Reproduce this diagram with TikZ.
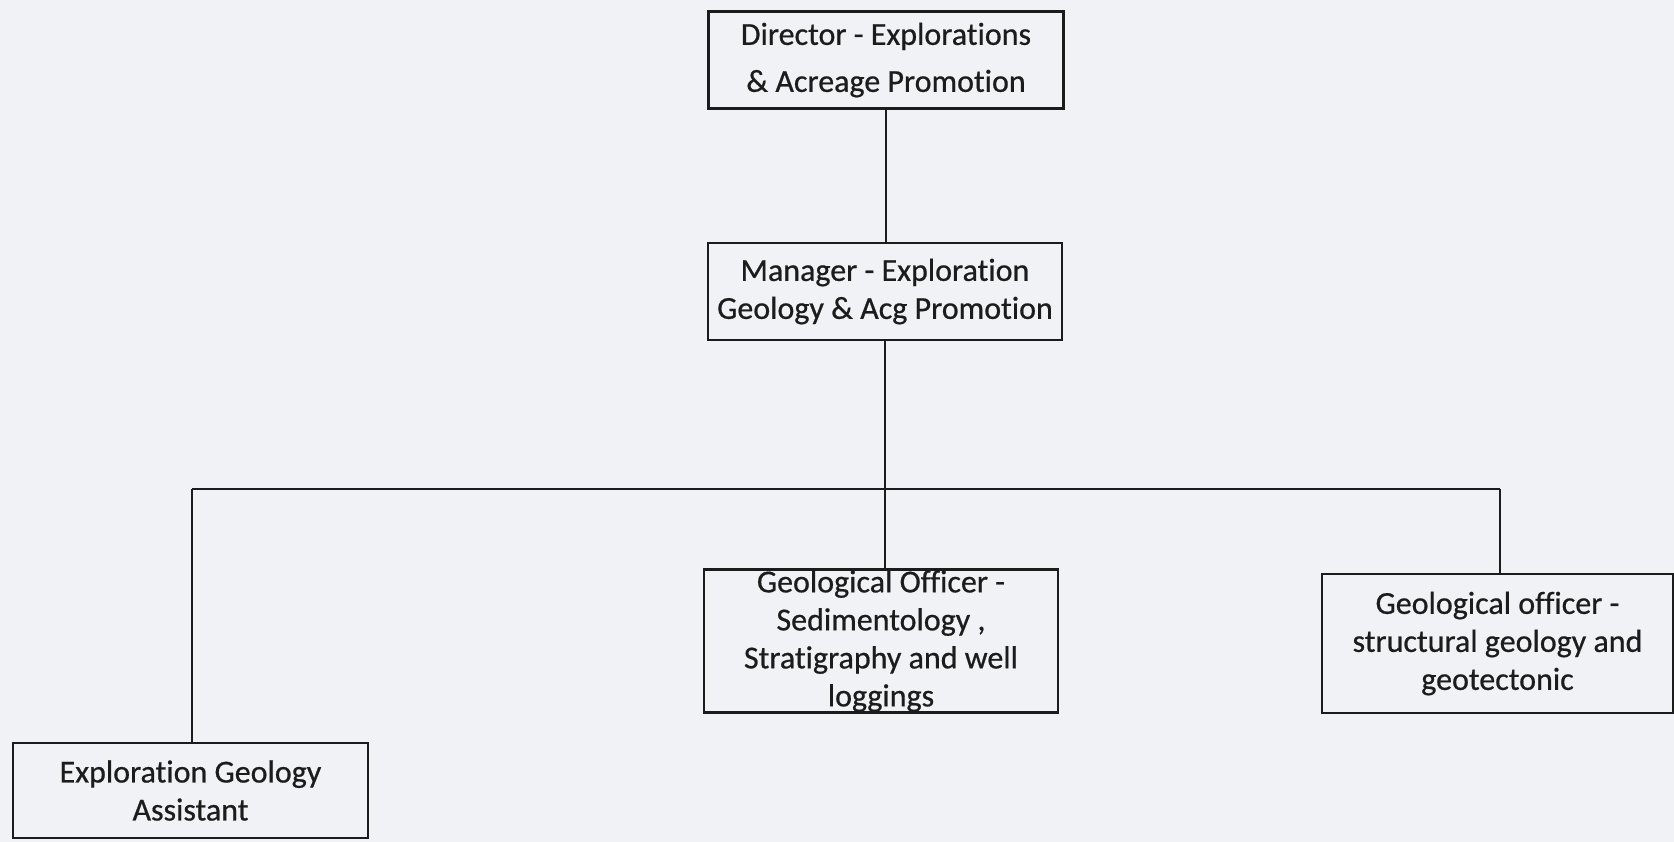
\documentclass[tikz,border=0pt]{standalone}
\usepackage{fontspec}
\setmainfont{Carlito}[RawFeature={-liga}, FakeBold=0.6]
\definecolor{paper}{HTML}{F1F2F5}
\definecolor{ink}{HTML}{1C1C1C}
\begin{document}
\begin{tikzpicture}[x=1pt,y=-1pt,
  orgbox/.style={draw=ink, line width=2.6pt, inner sep=0pt, align=center,
    text=ink, font=\fontsize{32}{38}\selectfont},
  link/.style={draw=ink, line width=2.4pt}]
\fill[paper] (0,0) rectangle (1674,842);
\useasboundingbox (0,0) rectangle (1674,842);
\node[orgbox, minimum width=355pt, minimum height=97pt, font=\fontsize{32}{47}\selectfont]
  (dir) at (886,60) {Director - Explorations\\ \& Acreage Promotion};
\node[orgbox, minimum width=354pt, minimum height=97pt]
  (mgr) at (885,291.5) {Manager - Exploration\\Geology \& Acg Promotion};
\node[orgbox, minimum width=354pt, minimum height=143pt]
  (geo) at (881,641) {Geological Officer -\\Sedimentology ,\\Stratigraphy and well\\loggings};
\node[orgbox, minimum width=351pt, minimum height=139pt]
  (str) at (1497.5,643.5) {Geological officer -\\structural geology and\\geotectonic};
\node[orgbox, minimum width=355pt, minimum height=95pt]
  (asst) at (190.5,790.5) {Exploration Geology\\Assistant};
\coordinate (hub) at (885,489);
\coordinate (hl) at (192,489);
\coordinate (hr) at (1500,489);
\draw[link] (dir.south) -- (dir.south |- mgr.north);
\draw[link] (mgr.south) -- (hub);
\draw[link] (hl) -- (hr);
\draw[link] (hl) -- (hl |- asst.north);
\draw[link] (hub) -- (hub |- geo.north);
\draw[link] (hr) -- (hr |- str.north);
\end{tikzpicture}
\end{document}
